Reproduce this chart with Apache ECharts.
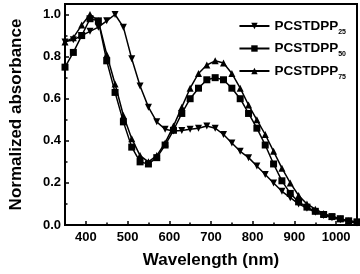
<!DOCTYPE html>
<html><head><meta charset="utf-8">
<script src="https://cdn.jsdelivr.net/npm/echarts@6/dist/echarts.min.js"></script>
<style>html,body{margin:0;padding:0;background:#fff}#c{width:360px;height:274px}</style>
</head><body><div id="c"></div>
<script>
const wavelengths = [350,370,390,410,430,450,470,490,510,530,550,570,590,610,630,650,670,690,710,730,750,770,790,810,830,850,870,890,910,930,950,970,990,1010,1030,1050];
const pc25 = [0.87,0.88,0.90,0.92,0.94,0.97,1.00,0.94,0.79,0.66,0.56,0.49,0.455,0.447,0.449,0.455,0.46,0.47,0.46,0.43,0.39,0.35,0.32,0.28,0.24,0.20,0.16,0.13,0.10,0.08,0.06,0.045,0.035,0.025,0.015,0.01];
const pc50 = [0.75,0.82,0.90,0.98,0.97,0.78,0.63,0.49,0.37,0.30,0.29,0.32,0.38,0.45,0.53,0.60,0.65,0.69,0.70,0.69,0.65,0.60,0.53,0.46,0.38,0.29,0.21,0.15,0.11,0.085,0.065,0.05,0.04,0.03,0.02,0.015];
const pc75 = [0.87,0.89,0.95,1.00,0.97,0.81,0.67,0.52,0.41,0.33,0.30,0.33,0.39,0.47,0.56,0.65,0.72,0.76,0.78,0.77,0.72,0.65,0.57,0.50,0.43,0.35,0.27,0.20,0.14,0.10,0.075,0.055,0.04,0.03,0.02,0.012];
const seriesNames = ['PCSTDPP25','PCSTDPP50','PCSTDPP75'];
const majorX = [400,500,600,700,800,900,1000];
const minorX = [450,550,650,750,850,950];

const font = 'Liberation Sans, Arial, sans-serif';
const mk = (name, data, symbol, rot) => ({
  name, type:'line', data: wavelengths.map((w,i)=>[w,data[i]]),
  symbol, symbolSize: 7, symbolRotate: rot, showSymbol:true,
  lineStyle:{color:'#000', width:1.5}, itemStyle:{color:'#000'},
  emphasis:{disabled:true}, animation:false, xAxisIndex:0
});
const chart = echarts.init(document.getElementById('c'), null, {renderer:'canvas'});
chart.setOption({
  animation:false,
  grid:{left:54, right:3, top:4, bottom:45, show:true, borderColor:'#000', borderWidth:2, backgroundColor:'transparent'},
  legend:{
    orient:'vertical', right:9, top:14, itemWidth:30, itemHeight:8, itemGap:6,
    data: seriesNames,
    formatter: n => '{a|PCSTDPP}{b|' + n.slice(7) + '}',
    textStyle:{
      rich:{
        a:{fontFamily:font, fontWeight:'bold', fontSize:13.5, color:'#000'},
        b:{fontFamily:font, fontWeight:'bold', fontSize:7, color:'#000', verticalAlign:'bottom', padding:[12,0,0,0]}
      }
    }
  },
  xAxis:[{
    type:'value', min:350, max:1050,
    name:'Wavelength (nm)', nameLocation:'middle', nameGap:27,
    nameTextStyle:{fontFamily:font, fontWeight:'bold', fontSize:17, color:'#000'},
    axisLine:{lineStyle:{color:'#000', width:2}},
    axisTick:{inside:true, length:4, lineStyle:{color:'#000', width:1.5}, customValues: majorX},
    axisLabel:{fontFamily:font, fontWeight:'bold', fontSize:13, color:'#000', margin:6, customValues: majorX, formatter: v => String(v)},
    splitLine:{show:false}
  },{
    type:'value', min:350, max:1050, position:'bottom',
    axisLine:{show:false},
    axisTick:{inside:true, length:2.5, lineStyle:{color:'#000', width:1.5}, customValues: minorX},
    axisLabel:{show:false}, splitLine:{show:false}
  }],
  yAxis:{
    type:'value', min:0, max:1.05, interval:0.2,
    name:'Normalized absorbance', nameLocation:'middle', nameGap:40,
    nameTextStyle:{fontFamily:font, fontWeight:'bold', fontSize:17, color:'#000'},
    axisLine:{show:true, lineStyle:{color:'#000', width:2}},
    axisTick:{show:true, inside:true, length:4, lineStyle:{color:'#000', width:1.5}},
    minorTick:{show:true, splitNumber:2, length:2.5, lineStyle:{color:'#000', width:1.5}},
    axisLabel:{fontFamily:font, fontWeight:'bold', fontSize:13, color:'#000', margin:4, formatter: v => v.toFixed(1)},
    splitLine:{show:false}
  },
  series:[
    mk('PCSTDPP25', pc25, 'triangle', 180),
    mk('PCSTDPP50', pc50, 'rect', 0),
    mk('PCSTDPP75', pc75, 'triangle', 0)
  ]
});
</script></body></html>
